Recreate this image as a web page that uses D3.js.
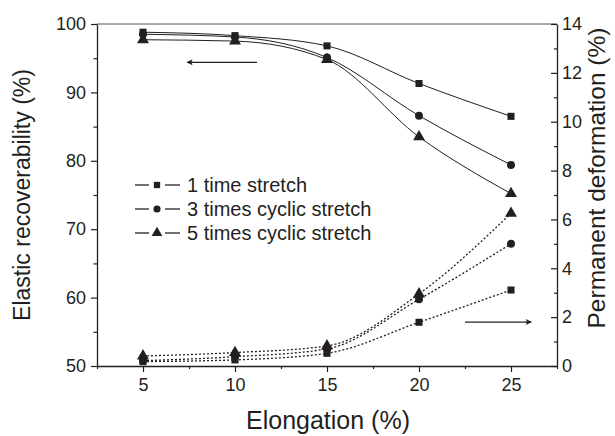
<!DOCTYPE html>
<html>
<head>
<meta charset="utf-8">
<script src="https://cdn.jsdelivr.net/npm/d3@7"></script>
<style>
  body { margin: 0; background: #fff; }
  svg { display: block; font-family: "Liberation Sans", Arial, sans-serif; }
</style>
</head>
<body>
<div id="chart"></div>
<script>
// Elongation values (%)
const elongation = [5, 10, 15, 20, 25];

// Elastic recoverability (%), left axis
const recov1 = [98.8, 98.3, 96.8, 91.3, 86.5];
const recov3 = [98.5, 98.1, 95.1, 86.6, 79.4];
const recov5 = [97.7, 97.5, 94.8, 83.5, 75.2];

// Permanent deformation (%), right axis
const deform1 = [0.18, 0.25, 0.52, 1.79, 3.11];
const deform3 = [0.22, 0.38, 0.7, 2.73, 5.0];
const deform5 = [0.41, 0.55, 0.82, 2.95, 6.25];

const seriesNames = ["1 time stretch", "3 times cyclic stretch", "5 times cyclic stretch"];
const markerTypes = [d3.symbolSquare, d3.symbolCircle, d3.symbolTriangle];

const xTicks = [5, 10, 15, 20, 25];
const yLeftTicks = [50, 60, 70, 80, 90, 100];
const yRightTicks = [0, 2, 4, 6, 8, 10, 12, 14];

const width = 615, height = 436;
const margin = {top: 24, right: 58, bottom: 70, left: 97};
const ink = "#231f20";

const svg = d3.select("#chart").append("svg")
    .attr("width", width)
    .attr("height", height);

const x = d3.scaleLinear().domain([2.5, 27.5]).range([margin.left, width - margin.right]);
const yL = d3.scaleLinear().domain([50, 100]).range([height - margin.bottom, margin.top]);
const yR = d3.scaleLinear().domain([0, 14]).range([height - margin.bottom, margin.top]);

// frame top line
svg.append("line")
    .attr("x1", x.range()[0]).attr("x2", x.range()[1])
    .attr("y1", margin.top).attr("y2", margin.top)
    .attr("stroke", "#555").attr("stroke-width", 1);

function styleAxis(g) {
  g.selectAll(".domain").attr("stroke", ink).attr("stroke-width", 1.3);
  g.selectAll(".tick line").attr("stroke", ink).attr("stroke-width", 1.2);
  g.selectAll("text").attr("fill", ink).attr("font-size", 18)
      .attr("font-family", "Liberation Sans, Arial, sans-serif");
}

// minor ticks first
svg.append("g")
    .attr("transform", `translate(0,${yL.range()[0]})`)
    .call(d3.axisBottom(x).tickValues(d3.range(2.5, 27.6, 5)).tickSize(3).tickFormat(""))
    .call(g => g.select(".domain").remove())
    .call(styleAxis);
svg.append("g")
    .attr("transform", `translate(${margin.left},0)`)
    .call(d3.axisLeft(yL).tickValues(d3.range(55, 100, 10)).tickSize(3.5).tickFormat(""))
    .call(g => g.select(".domain").remove())
    .call(styleAxis);
svg.append("g")
    .attr("transform", `translate(${width - margin.right},0)`)
    .call(d3.axisLeft(yR).tickValues(d3.range(1, 14, 2)).tickSize(3).tickFormat(""))
    .call(g => g.select(".domain").remove())
    .call(styleAxis);

// major axes
svg.append("g")
    .attr("transform", `translate(0,${yL.range()[0]})`)
    .call(d3.axisBottom(x).tickValues(xTicks).tickSize(6).tickSizeOuter(0).tickPadding(6))
    .call(styleAxis);
svg.append("g")
    .attr("transform", `translate(${margin.left},0)`)
    .call(d3.axisLeft(yL).tickValues(yLeftTicks).tickSize(6).tickSizeOuter(0).tickPadding(5))
    .call(styleAxis);
const rAxis = svg.append("g")
    .attr("transform", `translate(${width - margin.right},0)`)
    .call(d3.axisRight(yR).tickValues(yRightTicks).tickSize(6).tickSizeOuter(0).tickPadding(6))
    .call(styleAxis);
rAxis.selectAll(".tick line").attr("x2", -6);
rAxis.selectAll(".tick text").attr("x", 5);

// axis titles
svg.append("text")
    .attr("x", (x.range()[0] + x.range()[1]) / 2 + 1)
    .attr("y", 429)
    .attr("text-anchor", "middle")
    .attr("font-size", 25)
    .attr("fill", ink)
    .text("Elongation (%)");
svg.append("text")
    .attr("transform", `translate(30,${(margin.top + height - margin.bottom) / 2}) rotate(-90)`)
    .attr("text-anchor", "middle")
    .attr("font-size", 23)
    .attr("fill", ink)
    .text("Elastic recoverability (%)");
svg.append("text")
    .attr("transform", `translate(605,178) rotate(-90)`)
    .attr("text-anchor", "middle")
    .attr("font-size", 24.5)
    .attr("fill", ink)
    .text("Permanent deformation (%)");

const recovSeries = [recov1, recov3, recov5];
const deformSeries = [deform1, deform3, deform5];
const markerSizes = [50, 50, 62];

const lineL = d3.line().x((d, i) => x(elongation[i])).y(d => yL(d)).curve(d3.curveMonotoneX);
const lineR = d3.line().x((d, i) => x(elongation[i])).y(d => yR(d)).curve(d3.curveMonotoneX);

recovSeries.forEach(s => {
  svg.append("path").datum(s)
      .attr("d", lineL)
      .attr("fill", "none").attr("stroke", ink).attr("stroke-width", 1);
});
deformSeries.forEach(s => {
  svg.append("path").datum(s)
      .attr("d", lineR)
      .attr("fill", "none").attr("stroke", ink).attr("stroke-width", 1.3)
      .attr("stroke-dasharray", "2,2");
});

function drawMarkers(data, yScale, k) {
  svg.append("g").selectAll("path")
    .data(data)
    .join("path")
      .attr("transform", (d, i) => `translate(${x(elongation[i])},${yScale(d)})`)
      .attr("d", d3.symbol(markerTypes[k], markerSizes[k]))
      .attr("fill", ink);
}
recovSeries.forEach((s, k) => drawMarkers(s, yL, k));
deformSeries.forEach((s, k) => drawMarkers(s, yR, k));

// direction arrows
svg.append("defs").append("marker")
    .attr("id", "arrow")
    .attr("viewBox", "0 0 10 10")
    .attr("refX", 9).attr("refY", 5)
    .attr("markerWidth", 9).attr("markerHeight", 6)
    .attr("markerUnits", "userSpaceOnUse")
    .attr("orient", "auto")
  .append("path")
    .attr("d", "M0,0L10,5L0,10L2,5Z")
    .attr("fill", ink);
svg.append("line")
    .attr("x1", x(11.2)).attr("x2", x(7.4))
    .attr("y1", yL(94.4)).attr("y2", yL(94.4))
    .attr("stroke", ink).attr("stroke-width", 1.3)
    .attr("marker-end", "url(#arrow)");
svg.append("line")
    .attr("x1", x(22.5)).attr("x2", x(26.1))
    .attr("y1", yR(1.8)).attr("y2", yR(1.8))
    .attr("stroke", ink).attr("stroke-width", 1.3)
    .attr("marker-end", "url(#arrow)");

// legend
const legend = svg.append("g").attr("transform", "translate(135,185)");
seriesNames.forEach((name, k) => {
  const row = legend.append("g").attr("transform", `translate(0,${k * 24})`);
  row.append("line").attr("x1", 0).attr("x2", 14).attr("stroke", ink).attr("stroke-width", 1.3);
  row.append("line").attr("x1", 30).attr("x2", 45).attr("stroke", ink).attr("stroke-width", 1.3);
  row.append("path")
      .attr("transform", "translate(22,0)")
      .attr("d", d3.symbol(markerTypes[k], markerSizes[k] * 0.8))
      .attr("fill", ink);
  row.append("text")
      .attr("x", 52).attr("y", 7)
      .attr("font-size", 20)
      .attr("fill", ink)
      .text(name);
});
</script>
</body>
</html>
